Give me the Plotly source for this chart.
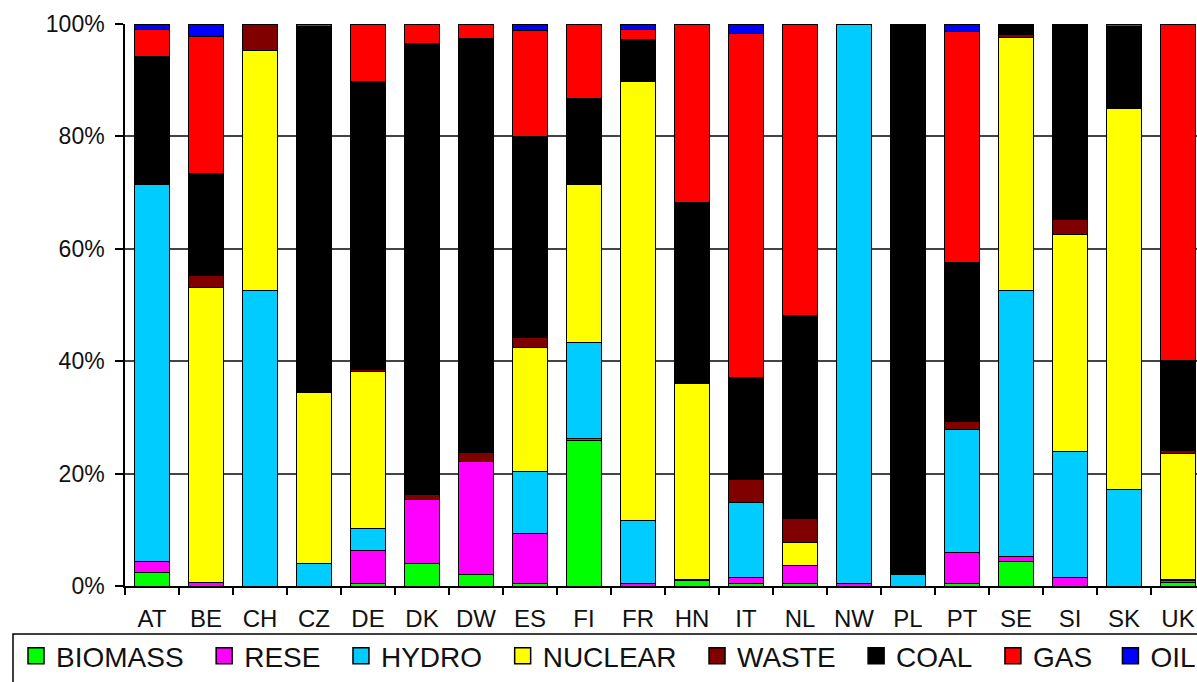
import plotly.graph_objects as go

countries = ["AT", "BE", "CH", "CZ", "DE", "DK", "DW", "ES", "FI", "FR",
             "HN", "IT", "NL", "NW", "PL", "PT", "SE", "SI", "SK", "UK"]

biomass = [2.4, 0.0, 0.0, 0.0, 0.5, 4.0, 2.0, 0.5, 25.9, 0.0,
           1.0, 0.5, 0.5, 0.0, 0.0, 0.5, 4.3, 0.0, 0.0, 0.7]
rese    = [2.0, 0.7, 0.0, 0.0, 5.9, 11.4, 20.2, 8.9, 0.3, 0.5,
           0.2, 1.0, 3.2, 0.5, 0.0, 5.5, 0.9, 1.5, 0.0, 0.2]
hydro   = [67.1, 0.0, 52.5, 4.0, 3.9, 0.0, 0.0, 10.9, 17.2, 11.1,
           0.0, 13.3, 0.0, 99.5, 2.0, 21.8, 47.3, 22.4, 17.1, 0.3]
nuclear = [0.0, 52.5, 42.8, 30.5, 27.8, 0.0, 0.0, 22.1, 28.1, 78.1,
           34.9, 0.0, 4.0, 0.0, 0.0, 0.0, 45.1, 38.6, 67.8, 22.3]
waste   = [0.0, 2.1, 4.7, 0.0, 0.5, 0.9, 1.5, 1.8, 0.0, 0.0,
           0.0, 4.1, 4.3, 0.0, 0.0, 1.4, 0.6, 2.8, 0.0, 0.6]
coal    = [22.7, 18.1, 0.0, 65.0, 51.1, 80.3, 73.8, 35.8, 15.3, 7.5,
           32.2, 18.2, 36.1, 0.0, 98.0, 28.3, 1.8, 34.7, 14.6, 16.1]
gas     = [4.8, 24.3, 0.0, 0.5, 10.3, 3.4, 2.5, 18.9, 13.2, 1.8,
           31.7, 61.2, 51.9, 0.0, 0.0, 41.1, 0.0, 0.0, 0.5, 59.8]
oil     = [1.0, 2.3, 0.0, 0.0, 0.0, 0.0, 0.0, 1.1, 0.0, 1.0,
           0.0, 1.7, 0.0, 0.0, 0.0, 1.4, 0.0, 0.0, 0.0, 0.0]

series_names = ["BIOMASS", "RESE", "HYDRO", "NUCLEAR", "WASTE", "COAL", "GAS", "OIL"]
series_values = [biomass, rese, hydro, nuclear, waste, coal, gas, oil]
series_colors = ["#00FF00", "#FF00FF", "#00CCFF", "#FFFF00",
                 "#800000", "#000000", "#FF0000", "#0000FF"]
# trailing spacing after each legend label (mimics the reference's gaps)
legend_pads = ["\u00a0\u00a0"] * 6 + ["\u00a0\u2009", ""]

y_ticks = [0, 20, 40, 60, 80, 100]

FONT = "Liberation Sans, Arial, sans-serif"

# page body margin is removed (post_script), so figure px == screen px
W, H = 1197, 682
L, T = 125, 24
PLOT_BOTTOM = 586
PW = W - L
PH = PLOT_BOTTOM - T
B = H - T - PH
CAT_PX = 54.0     # pixel width of one category slot


def px_x(s):
    return (s - L) / PW


def px_y(s):
    return (PLOT_BOTTOM - s) / PH


fig = go.Figure()

for name, vals, col in zip(series_names, series_values, series_colors):
    fig.add_trace(go.Bar(
        x=countries, y=vals, name=name,
        marker=dict(color=col, line=dict(color="#000000", width=1)),
        showlegend=False,
    ))

# legend entries (square swatches)
for name, col, pad in zip(series_names, series_colors, legend_pads):
    fig.add_trace(go.Scatter(
        x=[None], y=[None], mode="markers", name=name + pad,
        marker=dict(symbol="square", size=16, color=col,
                    line=dict(color="#000000", width=1.5)),
        showlegend=True, hoverinfo="skip",
    ))

fig.update_layout(
    width=W, height=H,
    margin=dict(l=L, r=0, t=T, b=B, pad=0, autoexpand=False),
    barmode="stack",
    barnorm="percent",
    bargap=0.37,
    plot_bgcolor="#FFFFFF",
    paper_bgcolor="#FFFFFF",
    font=dict(family=FONT, color="#111111"),
    showlegend=True,
    legend=dict(
        orientation="h",
        traceorder="normal",
        x=px_x(16), xanchor="left",
        y=px_y(631), yanchor="top",
        font=dict(size=28, family=FONT, color="#111111"),
        bgcolor="rgba(0,0,0,0)",
        borderwidth=0,
        itemclick=False,
    ),
    xaxis=dict(
        type="category",
        range=[-0.5, -0.5 + PW / CAT_PX],
        tickson="boundaries",
        ticks="outside", ticklen=7, tickwidth=1.5, tickcolor="#000000",
        showline=True, linecolor="#000000", linewidth=1.5,
        showgrid=False,
        tickfont=dict(size=24, family=FONT, color="#111111"),
        ticklabelstandoff=10,
        fixedrange=True,
    ),
    yaxis=dict(
        range=[0, 100],
        tickvals=y_ticks,
        ticktext=[f"{v}%" for v in y_ticks],
        ticks="outside", ticklen=8, tickwidth=1.5, tickcolor="#000000",
        showline=True, linecolor="#000000", linewidth=1.5,
        showgrid=True, gridcolor="#444444", gridwidth=1.5,
        zeroline=False,
        tickfont=dict(size=23, family=FONT, color="#111111"),
        ticklabelstandoff=6,
        fixedrange=True,
    ),
    shapes=[
        dict(type="rect", xref="paper", yref="paper",
             x0=px_x(13), x1=px_x(1260), y0=px_y(634), y1=px_y(760),
             line=dict(color="#000000", width=1.5),
             fillcolor="rgba(0,0,0,0)", layer="above"),
    ],
)

fig.write_html(
    "out.html",
    config={"displayModeBar": False},
    post_script="document.documentElement.style.margin='0';"
                "document.body.style.margin='0';"
                "document.documentElement.style.overflow='hidden';"
                "document.body.style.overflow='hidden';",
)
